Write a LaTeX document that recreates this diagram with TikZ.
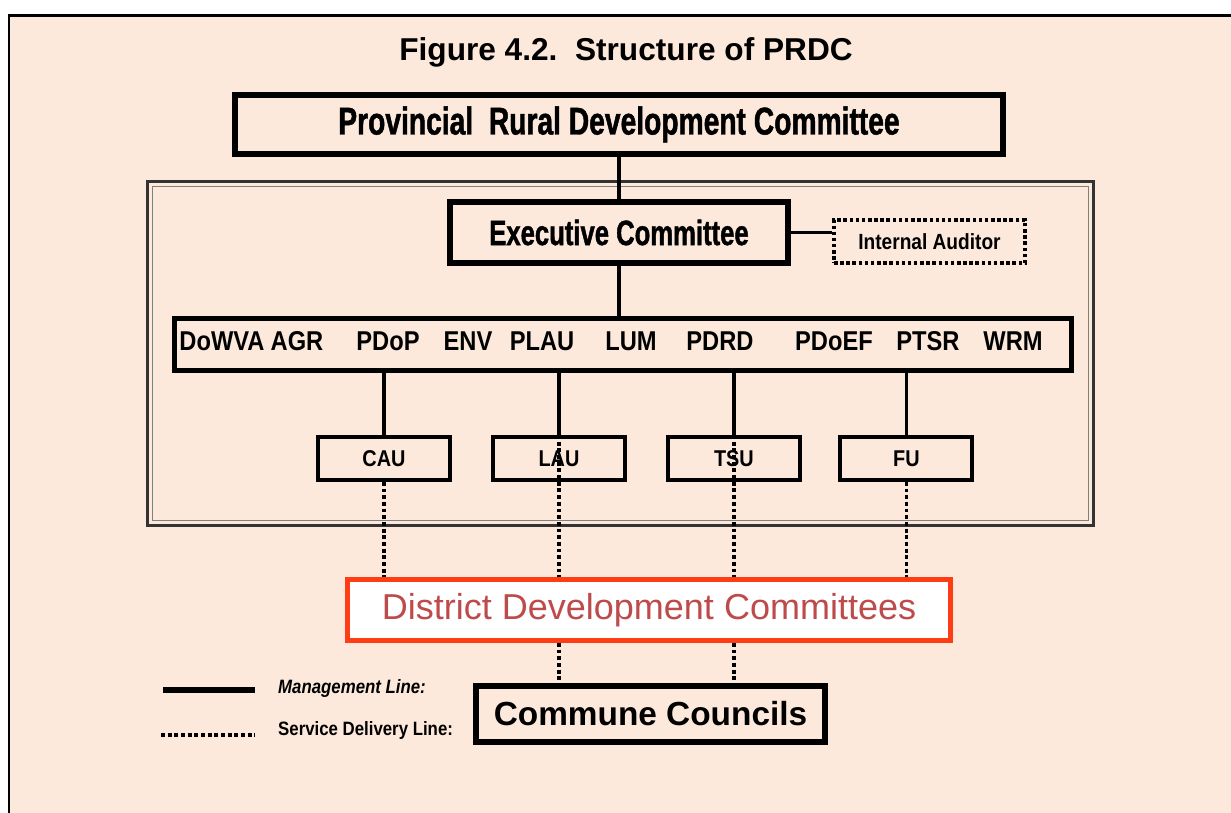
\documentclass[tikz,border=0pt]{standalone}
\usepackage{fontspec}
\setmainfont{Liberation Sans}
\newfontfamily\condfont[FakeStretch=0.73,FakeBold=1.2]{Liberation Sans}
\newfontfamily\narrowfont[FakeStretch=0.87]{Liberation Sans}
\usepackage{xcolor}
\usetikzlibrary{positioning}
\definecolor{paper}{RGB}{252,233,219}
\definecolor{ddcred}{RGB}{255,60,20}
\definecolor{ddctext}{RGB}{190,75,75}

\begin{document}
\begin{tikzpicture}[x=0.02cm,y=-0.02cm,node distance=3.5cm,on grid,
  box/.style={draw,line width=3.2pt,inner sep=0pt},
  unit/.style={draw,line width=2.2pt,minimum width=2.64cm,minimum height=0.86cm,
    font=\narrowfont\bfseries\fontsize{13}{13}\selectfont},
  mline/.style={line width=1.8pt},
  sline/.style={line width=2pt,dash pattern=on 2.2pt off 1.6pt}]
\useasboundingbox (0,0) rectangle (1231,813);
\clip (0,0) rectangle (1231,813);
\fill[white] (0,0) rectangle (1231,813);
\filldraw[fill=paper,line width=1.7pt] (9,16) rectangle (1260,840);

\node[font=\bfseries\fontsize{18}{18}\selectfont] (T) at (626,52) {Figure 4.2.\ \ Structure of PRDC};
\node[box,minimum width=15.36cm,minimum height=1.18cm,
  font=\condfont\bfseries\fontsize{22}{22}\selectfont] (PRDC) at (619,124.5) {Provincial\ \ Rural Development Committee};

% executive frame
\draw[black!80,line width=1.7pt] (147.5,181.5) rectangle (1093.5,525.5);
\draw[black!50,line width=1.1pt] (152.5,186.5) rectangle (1088.5,520.5);

\node[box,minimum width=6.76cm,minimum height=1.22cm,
  font=\condfont\bfseries\fontsize{20}{20}\selectfont] (EC) at (619,232.5) {Executive Committee};
\node[draw,line width=2pt,dash pattern=on 2pt off 1.5pt,minimum width=3.82cm,minimum height=0.86cm,
  font=\narrowfont\bfseries\fontsize{12.5}{12.5}\selectfont] (IA) at (929.5,241.5) {Internal Auditor};

\node[draw,line width=2.8pt,minimum width=17.94cm,minimum height=1.04cm] (DEP) at (623,344.5) {};
\foreach \x/\t in {222/DoWVA,297/AGR,388/PDoP,468/ENV,542/PLAU,631/LUM,720/PDRD,834/PDoEF,928/PTSR,1013/WRM}
  \node[font=\narrowfont\bfseries\fontsize{15.5}{15.5}\selectfont] (\t) at (\x,341) {\t};

\node[unit] (CAU) at (384,458.5) {CAU};
\node[unit] (LAU) [right=of CAU] {LAU};
\node[unit] (TSU) [right=of LAU] {TSU};
\node[unit] (FU) [right=3.45cm of TSU] {FU};

\node[draw=ddcred,fill=white,line width=2.8pt,minimum width=12.06cm,minimum height=1.22cm,
  text=ddctext,font=\fontsize{20.5}{20.5}\selectfont] (DDC) at (649,610) {District Development Committees};
\node[box,minimum width=6.98cm,minimum height=1.12cm,
  font=\bfseries\fontsize{19}{19}\selectfont] (CC) at (650.5,714) {Commune Councils};

% management lines
\draw[mline] (PRDC) -- (EC);
\draw[mline] (EC.south) -- (EC.south |- DEP.north);
\draw[mline] (EC.east) -- (IA.west |- EC.east);
\foreach \u in {CAU,LAU,TSU,FU}
  \draw[mline] (\u.north |- DEP.south) -- (\u.north);

% service delivery lines
\draw[sline] (CAU.south) -- (CAU.south |- DDC.north);
\draw[sline] (FU.south) -- (FU.south |- DDC.north);
\draw[sline] (LAU.north) -- (LAU.north |- DDC.north);
\draw[sline] (TSU.north) -- (TSU.north |- DDC.north);
\draw[sline] (LAU.north |- DDC.south) -- (LAU.north |- CC.north);
\draw[sline] (TSU.north |- DDC.south) -- (TSU.north |- CC.north);

% legend
\coordinate (m1) at (163,690);
\coordinate (m2) at (255,690);
\coordinate (s1) at (161,735);
\coordinate (s2) at (255,735);
\draw[line width=3.4pt] (m1) -- (m2);
\draw[sline] (s1) -- (s2);
\node[anchor=west,font=\narrowfont\bfseries\itshape\fontsize{11}{11}\selectfont] (ML) at (272,689) {Management Line:};
\node[anchor=west,font=\narrowfont\bfseries\fontsize{11}{11}\selectfont] (SL) at (272,731) {Service Delivery Line:};
\end{tikzpicture}
\end{document}
